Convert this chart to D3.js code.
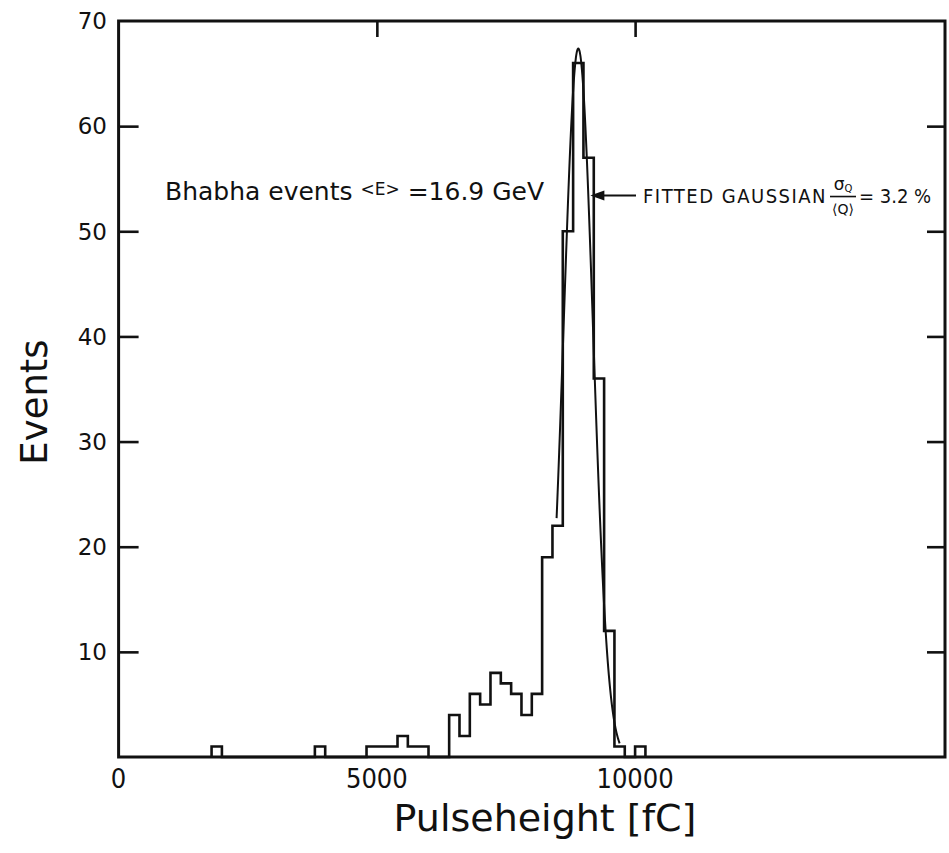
<!DOCTYPE html>
<html>
<head>
<meta charset="utf-8">
<script src="https://cdn.jsdelivr.net/npm/d3@7"></script>
<style>
  html, body { margin: 0; padding: 0; background: #fff; }
  svg { display: block; }
  text { font-family: "DejaVu Sans", "Liberation Sans", sans-serif; fill: #111; }
  .cond { font-family: "DejaVu Sans Condensed", "DejaVu Sans", sans-serif; font-stretch: condensed; }
</style>
</head>
<body>
<svg id="chart" width="949" height="853"></svg>
<script>
// Pulse-height spectrum of Bhabha events, 200 fC bins (lower edges in fC)
const binLow = [1800, 3800, 4800, 5000, 5200, 5400, 5600, 5800,
                6000, 6200, 6400, 6600, 6800, 7000, 7200, 7400, 7600, 7800,
                8000, 8200, 8400, 8600, 8800, 9000, 9200, 9400, 9600, 9800, 10000];
const counts = [1, 1, 1, 1, 1, 2, 1, 1,
                0, 0, 4, 2, 6, 5, 8, 7, 6, 4,
                6, 19, 22, 50, 66, 57, 36, 12, 1, 0, 1];
const binWidth = 200;

// Fitted gaussian: amplitude, mean <Q>, relative width sigma_Q/<Q>
const fitAmp = 67.4;
const fitMean = 8900;
const fitRelSigma = 0.032;
const fitRange = [8480, 9700];

const yTicks = [10, 20, 30, 40, 50, 60, 70];
const xTicks = [0, 5000, 10000];

const svg = d3.select("#chart");
const plotL = 118.6, plotR = 945, plotT = 21, plotB = 757;

const x = d3.scaleLinear().domain([0, 16000]).range([plotL, plotR]);
const y = d3.scaleLinear().domain([0, 70]).range([plotB, plotT]);

// frame
svg.append("rect")
  .attr("x", plotL).attr("y", plotT)
  .attr("width", plotR - plotL).attr("height", plotB - plotT)
  .attr("fill", "none").attr("stroke", "#111").attr("stroke-width", 3);

// left axis: inward ticks, labels outside
const yAxisL = d3.axisRight(y).tickValues(yTicks.slice(0, -1)).tickSize(20).tickFormat("");
svg.append("g").attr("transform", `translate(${plotL},0)`).call(yAxisL)
  .call(g => g.select(".domain").remove())
  .call(g => g.selectAll("line").attr("stroke", "#111").attr("stroke-width", 2.6));
svg.append("g").selectAll("text").data(yTicks).join("text")
  .attr("x", 107).attr("y", d => y(d))
  .attr("dy", "0.36em")
  .attr("text-anchor", "end")
  .attr("font-size", 23)
  .text(d => d);

// right axis: inward ticks
const yAxisR = d3.axisLeft(y).tickValues(yTicks.slice(0, -1)).tickSize(18).tickFormat("");
svg.append("g").attr("transform", `translate(${plotR},0)`).call(yAxisR)
  .call(g => g.select(".domain").remove())
  .call(g => g.selectAll("line").attr("stroke", "#111").attr("stroke-width", 2.6));

// top axis: inward ticks
const xAxisT = d3.axisBottom(x).tickValues([5000, 10000]).tickSize(16).tickFormat("");
svg.append("g").attr("transform", `translate(0,${plotT})`).call(xAxisT)
  .call(g => g.select(".domain").remove())
  .call(g => g.selectAll("line").attr("stroke", "#111").attr("stroke-width", 2.6));

// bottom tick labels
svg.append("g").selectAll("text").data(xTicks).join("text")
  .attr("class", "cond")
  .attr("x", d => x(d)).attr("y", 788)
  .attr("text-anchor", "middle")
  .attr("font-size", 27)
  .text(d => d);

// histogram as a step outline; gaps between filled bins drop to the baseline
const verts = [];
binLow.forEach((lo, i) => {
  const hi = lo + binWidth;
  const prevHi = i > 0 ? binLow[i - 1] + binWidth : null;
  if (prevHi !== lo) {
    if (prevHi !== null) verts.push([prevHi, 0]);
    verts.push([lo, 0]);
  }
  verts.push([lo, counts[i]]);
  verts.push([hi, counts[i]]);
});
verts.push([binLow[binLow.length - 1] + binWidth, 0]);
const line = d3.line().x(d => x(d[0])).y(d => y(d[1]));
svg.append("path")
  .attr("d", line(verts))
  .attr("fill", "none").attr("stroke", "#111")
  .attr("stroke-width", 2.6).attr("stroke-linejoin", "miter");

// fitted gaussian curve
const sigma = fitRelSigma * fitMean;
const gpts = d3.range(fitRange[0], fitRange[1] + 1, 10)
  .map(q => [q, fitAmp * Math.exp(-0.5 * ((q - fitMean) / sigma) ** 2)]);
svg.append("path")
  .attr("d", d3.line().x(d => x(d[0])).y(d => y(d[1])).curve(d3.curveBasis)(gpts))
  .attr("fill", "none").attr("stroke", "#111").attr("stroke-width", 2);

// axis titles
svg.append("text")
  .attr("x", 545).attr("y", 831)
  .attr("text-anchor", "middle")
  .attr("font-size", 38)
  .text("Pulseheight [fC]");
svg.append("text")
  .attr("transform", "translate(47,402) rotate(-90)")
  .attr("text-anchor", "middle")
  .attr("font-size", 37)
  .text("Events");

// annotation: beam energy
const ann = svg.append("text").attr("x", 165).attr("y", 200).attr("font-size", 25);
ann.append("tspan").text("Bhabha events ");
ann.append("tspan").attr("font-size", 17).attr("dy", -5).text("<E>");
ann.append("tspan").attr("dy", 5).text(" =16.9 GeV");

// annotation: arrow to the fitted curve
const arrowY = y(53.4);
const tipX = x(fitMean + 0.684 * sigma) + 2;
svg.append("line")
  .attr("x1", tipX + 10).attr("x2", 636)
  .attr("y1", arrowY).attr("y2", arrowY)
  .attr("stroke", "#111").attr("stroke-width", 2);
svg.append("path")
  .attr("d", `M${tipX},${arrowY} L${tipX + 14},${arrowY - 5} L${tipX + 14},${arrowY + 5} Z`)
  .attr("fill", "#111");

const fit = svg.append("g");
fit.append("text")
  .attr("class", "cond")
  .attr("x", 643).attr("y", arrowY + 7)
  .attr("font-size", 20)
  .attr("letter-spacing", 1.5)
  .text("FITTED GAUSSIAN");
const fx = 843;
const sig = fit.append("text").attr("x", fx).attr("y", arrowY - 6)
  .attr("text-anchor", "middle").attr("font-size", 17);
sig.append("tspan").text("σ");
sig.append("tspan").attr("font-size", 10).attr("dy", 2).text("Q");
fit.append("line")
  .attr("x1", fx - 13).attr("x2", fx + 13)
  .attr("y1", arrowY + 1).attr("y2", arrowY + 1)
  .attr("stroke", "#111").attr("stroke-width", 1.6);
fit.append("text").attr("x", fx).attr("y", arrowY + 18)
  .attr("text-anchor", "middle").attr("font-size", 14)
  .text("⟨Q⟩");
fit.append("text")
  .attr("class", "cond")
  .attr("x", fx + 16).attr("y", arrowY + 7)
  .attr("font-size", 20)
  .text("= 3.2 %");
</script>
</body>
</html>
